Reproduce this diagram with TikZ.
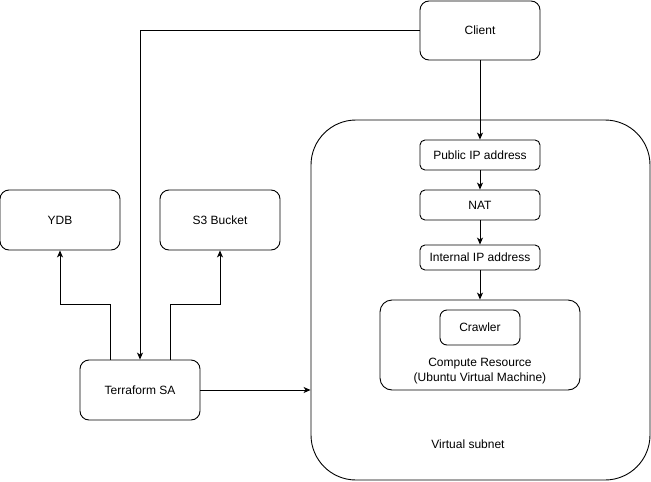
\documentclass[tikz,border=0pt]{standalone}
\usepackage{fontspec}
\setmainfont{Liberation Sans}
\usetikzlibrary{arrows.meta, positioning}

\begin{document}
\begin{tikzpicture}[x=1pt, y=-1pt, line width=0.9pt,
    font=\fontsize{12}{15}\selectfont,
    >={Stealth[length=7pt, width=6pt, inset=2pt]},
    bigbox/.style={draw, rounded corners=9pt, minimum width=120pt, minimum height=60pt, inner sep=0pt},
    ipbox/.style={draw, rounded corners=5pt, minimum width=120pt, minimum height=27pt, inner sep=0pt}]
\useasboundingbox (0,0) rectangle (651,482);

% Virtual subnet
\node[draw, rounded corners=45pt, minimum width=339pt, minimum height=360pt] (subnet) at (480.5,300) {};
\node (subnetlabel) at (468,444) {Virtual subnet};

% Client and the way in
\node[bigbox, minimum height=59pt] (client) at (480,30.5) {Client};
\node[ipbox, minimum height=30pt] (pubip) at (480,155) {Public IP address};
\node[ipbox, minimum height=30pt] (nat) at (480,205) {NAT};
\node[ipbox, minimum height=25pt] (intip) at (480,257.5) {Internal IP address};

% Compute resource
\node[draw, rounded corners=12pt, minimum width=200pt, minimum height=90pt] (vm) at (480,345) {};
\node[draw, rounded corners=7pt, minimum width=80pt, minimum height=35pt] (crawler) at (480,327.5) {Crawler};
\node[align=center] (vmlabel) at (480,371.5) {Compute Resource\\(Ubuntu Virtual Machine)};

% Storage and the service account
\node[bigbox] (ydb) at (60,220) {YDB};
\node[bigbox] (bucket) at (220,220) {S3 Bucket};
\node[bigbox] (tfsa) at (140,390) {Terraform SA};

% Connectors
\draw[->] (client.south) -- (pubip.north);
\draw[->] (pubip) -- (nat);
\draw[->] (nat) -- (intip);
\draw[->] (intip) -- (vm);
\draw[->] (client.west) -| (tfsa.north);
\draw[->] ([xshift=-30pt]tfsa.north) -- ++(0,-55) -| (ydb.south);
\draw[->] ([xshift=30pt]tfsa.north) -- ++(0,-55) -| (bucket.south);
\draw[->] (tfsa.east) -- (tfsa.east -| subnet.west);

\end{tikzpicture}
\end{document}
